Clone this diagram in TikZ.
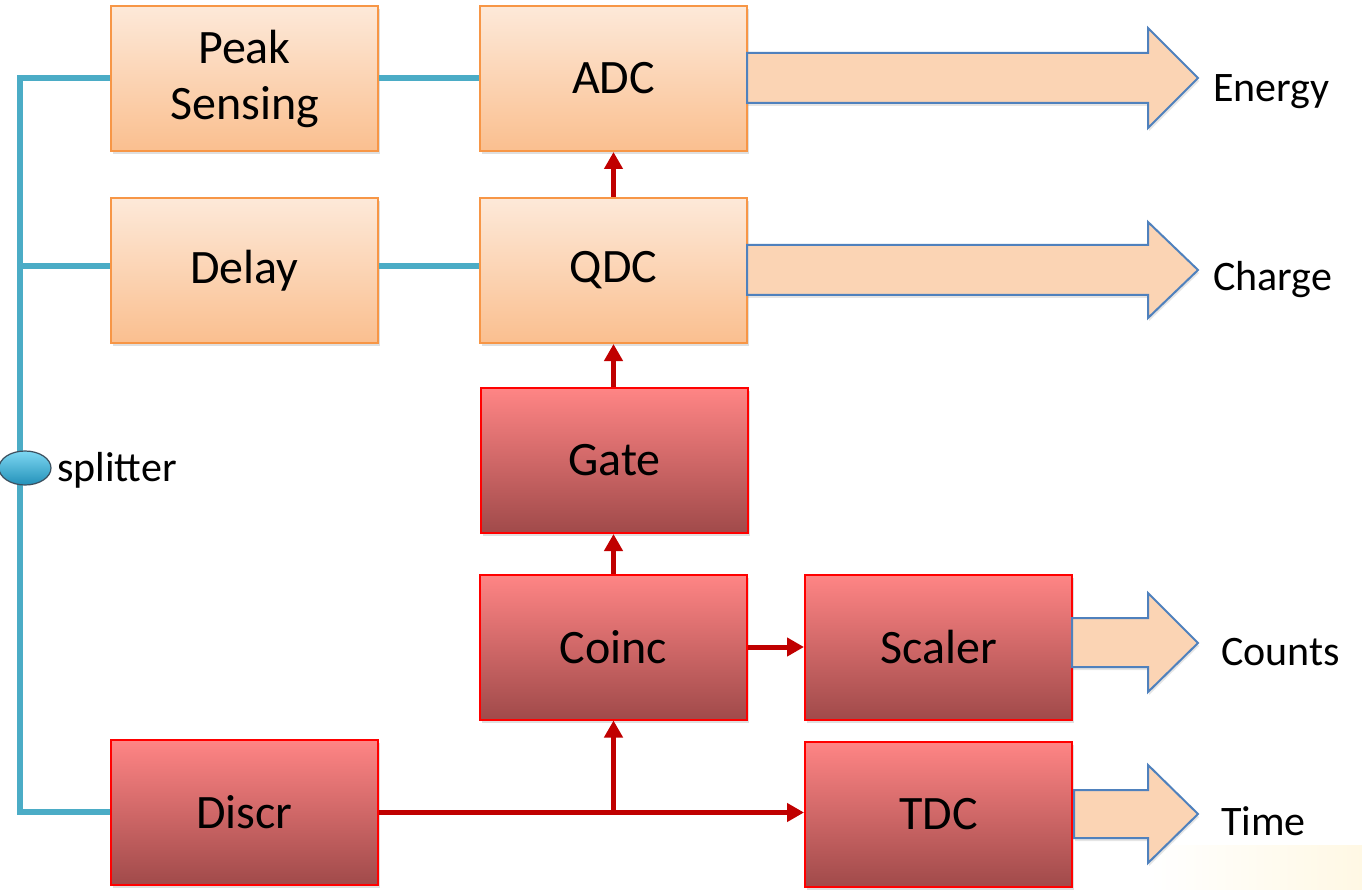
\documentclass[tikz,border=0pt]{standalone}
\usepackage{fontspec}
\setmainfont{Carlito}
\usetikzlibrary{shapes.geometric,shadows,calc,arrows.meta}
\definecolor{aqua}{HTML}{4BACC6}
\definecolor{darkred}{HTML}{C00000}
\definecolor{otop}{HTML}{FDE9D9}
\definecolor{obot}{HTML}{FABF8F}
\definecolor{oline}{HTML}{F79646}
\definecolor{rtop}{HTML}{FF8585}
\definecolor{rbot}{HTML}{A04A4A}
\definecolor{afill}{HTML}{FBD4B4}
\definecolor{aline}{HTML}{4F81BD}
\definecolor{glow}{RGB}{255,248,228}
\begin{document}
\begin{tikzpicture}[x=1pt,y=-1pt,
  box/.style={minimum width=267pt,minimum height=145pt,inner sep=0pt,line width=2pt,
    font=\fontsize{48}{56}\selectfont,align=center,
    drop shadow={shadow xshift=2pt,shadow yshift=-3pt,opacity=0.25}},
  obox/.style={box,draw=oline,top color=otop,bottom color=obot},
  rbox/.style={box,draw=red,top color=rtop,bottom color=rbot},
  wire/.style={aqua,line width=5.5pt},
  sig/.style={darkred,line width=5pt,-{Triangle[length=17pt,width=18pt]}},
  sigline/.style={darkred,line width=5pt},
  barrow/.style={fill=afill,draw=aline,line width=2pt,line join=miter,
    drop shadow={shadow xshift=1pt,shadow yshift=-3pt,opacity=0.2}},
  lbl/.style={anchor=west,inner sep=0pt,font=\fontsize{42}{46}\selectfont}]
\useasboundingbox (0,0) rectangle (1362,890);
\fill[white] (0,0) rectangle (1362,890);
\shade[left color=white,right color=glow] (1150,845) rectangle (1362,890);

% boxes
\node[obox] (pk) at (244.5,78.5) {Peak\\Sensing};
\node[obox] (adc) at (613.5,78.5) {ADC};
\node[obox] (dl) at (244.5,270.5) {Delay};
\node[obox] (qdc) at (613.5,270.5) {QDC};
\node[rbox] (gate) at (614.5,460.5) {Gate};
\node[rbox] (coinc) at (613.5,647) {Coinc};
\node[rbox] (scal) at (938.5,647) {Scaler};
\node[rbox] (discr) at (244.5,812.5) {Discr};
\node[rbox] (tdc) at (938.5,814) {TDC};

% splitter wiring
\coordinate (tl) at (20,78);
\coordinate (ml) at (20,266);
\coordinate (bl) at (20,812);
\draw[wire,line join=miter] (pk.west |- tl) -- (tl) -- (bl) -- (discr.west |- bl);
\draw[wire] (ml) -- (dl.west |- ml);
\draw[wire] (pk.east |- tl) -- (adc.west |- tl);
\draw[wire] (dl.east |- ml) -- (qdc.west |- ml);
\node[ellipse,minimum width=52pt,minimum height=34pt,inner sep=0pt,
  draw={rgb,255:red,60;green,80;blue,95},line width=1.2pt,
  top color={rgb,255:red,125;green,215;blue,242},bottom color={rgb,255:red,35;green,145;blue,185}] (spl) at (25,468) {};
\node[lbl] (splt) at (57,470) {splitter};

% red signal arrows
\draw[sig] (qdc.north) -- (adc.south);
\draw[sig] (gate.north -| qdc.south) -- (qdc.south);
\draw[sig] (coinc.north) -- (coinc.north |- gate.south);
\coordinate (j) at (coinc.south |- discr.east);
\draw[sigline] (discr.east) -- (j);
\draw[sig] (j) -- (tdc.west |- j);
\draw[sig] (j) -- (coinc.south);
\draw[sig] (coinc.east) -- (scal.west);

% block arrows
\draw[barrow] (747,53) -- (1148,53) -- (1148,28) -- (1198,78) -- (1148,128) -- (1148,103) -- (747,103) -- cycle;
\draw[barrow] (747,245) -- (1148,245) -- (1148,222) -- (1198,270) -- (1148,318) -- (1148,295) -- (747,295) -- cycle;
\draw[barrow] (1072,618) -- (1148,618) -- (1148,593) -- (1198,643) -- (1148,692) -- (1148,667) -- (1072,667) -- cycle;
\draw[barrow] (1074,790) -- (1148,790) -- (1148,765) -- (1198,814) -- (1148,863) -- (1148,838) -- (1074,838) -- cycle;

\node[lbl] (en) at (1213,92) {Energy};
\node[lbl] (ch) at (1213,280) {Charge};
\node[lbl] (co) at (1221,652) {Counts};
\node[lbl] (ti) at (1221,821) {Time};
\end{tikzpicture}
\end{document}
